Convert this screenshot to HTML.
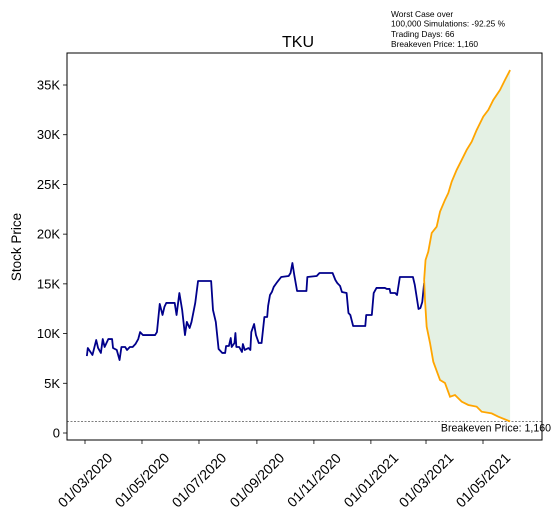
<!DOCTYPE html>
<html><head><meta charset="utf-8"><style>
body{margin:0;background:#fff;}
svg{display:block;font-family:"Liberation Sans","DejaVu Sans",sans-serif;}
</style></head><body>
<svg id="chart" width="560" height="524" viewBox="0 0 560 524" xmlns="http://www.w3.org/2000/svg">
<rect width="560" height="524" fill="#fff"/>
<g id="plot"></g>
<text x="298" y="47" font-size="16" text-anchor="middle">TKU</text>
<text transform="translate(21,247) rotate(-90)" font-size="13.5" text-anchor="middle">Stock Price</text>
<g font-size="8.4">
<text x="391" y="17">Worst Case over</text>
<text x="391" y="26.5">100,000 Simulations: -92.25 %</text>
<text x="391" y="37">Trading Days: 66</text>
<text x="391" y="47">Breakeven Price: 1,160</text>
</g>
</svg>
<script>
// day offsets from 2020-03-01
const priceDays=[2,3,8,12,14,17,19,21,25,29,30,34,37,39,43,45,48,51,54,57,59,62,75,77,80,83,85,87,96,98,101,104,107,109,112,114,118,121,135,137,140,143,147,150,151,154,156,157,160,161,162,165,168,169,171,175,177,178,181,183,186,189,192,195,196,198,200,202,205,210,218,220,222,224,227,237,238,248,251,265,268,270,273,275,280,282,284,287,300,301,307,309,312,321,323,326,327,332,334,337,351,353,357,359,361,363];
const priceValues=[7740,8550,7850,9350,8550,8050,9450,8650,9450,9450,8550,8350,7340,8650,8650,8350,8650,8650,8950,9450,10150,9850,9850,10150,12980,11870,12680,13080,13080,11870,14080,12370,9850,11170,10560,11170,13080,15290,15290,12370,11170,8450,8050,8050,8750,8750,9550,8650,9050,10060,8650,8650,8150,8950,8350,8550,8350,10150,10960,9850,9050,9050,11670,11670,12780,13880,14180,14690,15090,15690,15790,16090,17100,15890,14280,14280,15690,15790,16090,16090,15390,15090,14790,14180,14080,12070,11870,10760,10760,11870,11870,14080,14590,14590,14490,14490,14080,14080,13880,15690,15690,14890,12470,12570,13180,15090];
const upperDays=[363,364.5,367.4,371.1,376.4,380,385.3,388.9,392.5,397.8,403.2,408.5,413.9,419.2,426.3,431.7,437,444.2,449.5,455];
const upperValues=[15400,17400,18230,20120,20750,22260,23440,24140,25280,26460,27460,28470,29300,30470,31820,32490,33490,34500,35500,36500];
const lowerDays=[363,363.9,365.7,369.3,372.8,380,385.3,390.7,396,403.2,410.3,419.2,424.6,435.3,442.4,455];
const lowerValues=[15400,13380,10690,9050,7170,5330,5030,3650,3820,3150,2820,2650,2140,1970,1640,1160];
const breakeven=1160;
const yTicks=[0,5000,10000,15000,20000,25000,30000,35000];
const yTickLabels=["0","5K","10K","15K","20K","25K","30K","35K"];
const xTickDays=[0,61,122,184,245,306,365,426];
const xTickLabels=["01/03/2020","01/05/2020","01/07/2020","01/09/2020","01/11/2020","01/01/2021","01/03/2021","01/05/2021"];

const L=67,R=542,T=53,B=440;
const xs=d=>85+d*(398/426);
const ys=v=>433-v*(348/35000);
const NS="http://www.w3.org/2000/svg";
const g=document.getElementById('plot');
function mk(tag,attrs,parent){const e=document.createElementNS(NS,tag);for(const k in attrs)e.setAttribute(k,attrs[k]);(parent||g).appendChild(e);return e;}

let pts=upperDays.map((d,i)=>xs(d)+','+ys(upperValues[i]));
for(let i=lowerDays.length-1;i>=0;i--)pts.push(xs(lowerDays[i])+','+ys(lowerValues[i]));
const fill=mk('polygon',{points:pts.join(' '),fill:'#e4f1e4'});



const be=mk('line',{x1:L,x2:R,y1:ys(breakeven),y2:ys(breakeven),stroke:'#555','stroke-width':0.7,'stroke-dasharray':'2,1.5'});


const bt=mk('text',{x:551,y:ys(breakeven)+10,'font-size':10.6,'text-anchor':'end'});
bt.textContent='Breakeven Price: '+breakeven.toLocaleString('en-US');



const pl=mk('polyline',{points:priceDays.map((d,i)=>xs(d)+','+ys(priceValues[i])).join(' '),fill:'none',stroke:'#00008b','stroke-width':1.8,'stroke-linejoin':'round'});



const up=mk('polyline',{points:upperDays.map((d,i)=>xs(d)+','+ys(upperValues[i])).join(' '),fill:'none',stroke:'#ffa500','stroke-width':1.8});


const lo=mk('polyline',{points:lowerDays.map((d,i)=>xs(d)+','+ys(lowerValues[i])).join(' '),fill:'none',stroke:'#ffa500','stroke-width':1.8});



const fr=mk('rect',{x:L,y:T,width:R-L,height:B-T,fill:'none',stroke:'#000','stroke-width':1});



yTicks.forEach((v,i)=>{
  const y=ys(v);
  const t=mk('line',{x1:L-4,x2:L,y1:y,y2:y,stroke:'#000','stroke-width':0.8});
  
  
  const tx=mk('text',{x:L-7,y:y+4.5,'font-size':13,'text-anchor':'end'});
  tx.textContent=yTickLabels[i];
  
  
});
xTickDays.forEach((d,i)=>{
  const x=xs(d);
  const t=mk('line',{x1:x,x2:x,y1:B,y2:B+4,stroke:'#000','stroke-width':0.8});
  
  
  const tx=mk('text',{transform:`translate(${x},${B+40}) rotate(-45)`,'font-size':14,'text-anchor':'middle',dy:'5'});
  tx.textContent=xTickLabels[i];
  
  
});
</script>
</body></html>
